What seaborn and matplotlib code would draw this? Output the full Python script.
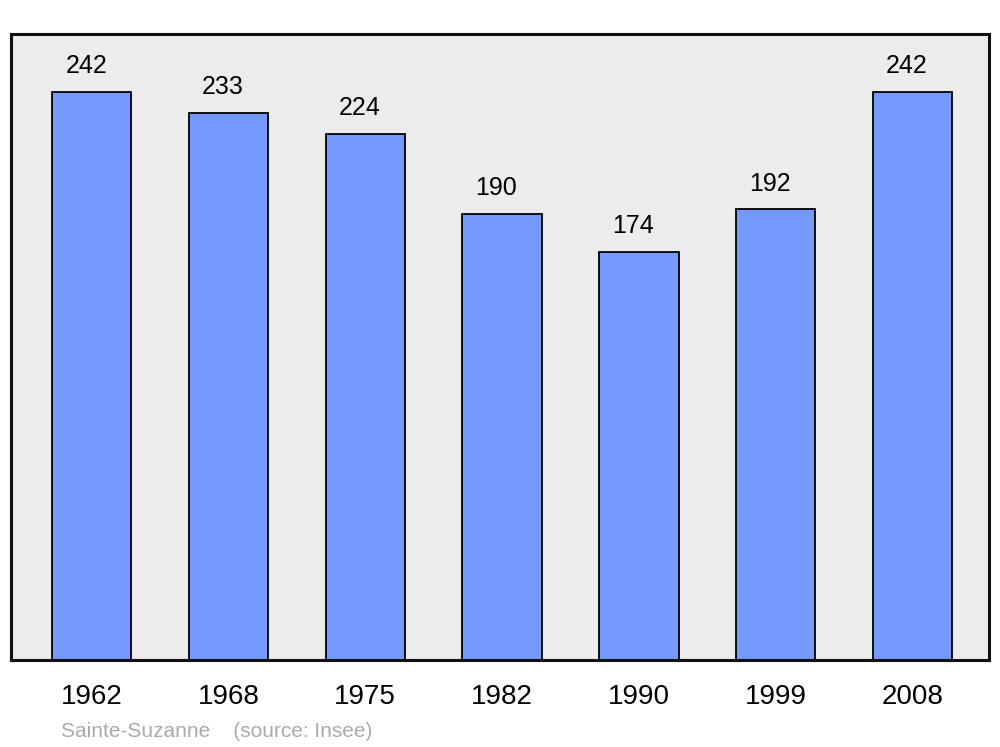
import matplotlib
matplotlib.use('Agg')
import matplotlib.pyplot as plt
import seaborn as sns
import pandas as pd

# population data
years = ['1962', '1968', '1975', '1982', '1990', '1999', '2008']
population = [242, 233, 224, 190, 174, 192, 242]

df = pd.DataFrame({'year': years, 'pop': population})

sns.set_style('white')
plt.rcParams['font.family'] = ['Liberation Sans', 'DejaVu Sans']

fig = plt.figure(figsize=(10, 7.47), dpi=100)
ax = fig.add_axes([0.011, 0.1165, 0.978, 0.838])
ax.set_facecolor('#ececec')

sns.barplot(data=df, x='year', y='pop', color='#7499ff', saturation=1,
            width=0.58, edgecolor='black', linewidth=1.3, ax=ax)

# value labels above bars
for i, v in enumerate(population):
    ax.annotate(str(v), (i, v), xytext=(-4, 13.5), textcoords='offset points',
                ha='center', va='baseline', fontsize=18, color='black')

ax.set_xlim(-0.59, 6.56)
ax.set_ylim(0, 266.7)
ax.set_yticks([])
ax.set_xlabel('')
ax.set_ylabel('')
ax.tick_params(axis='x', length=0, pad=17, labelsize=20, labelcolor='black')
for lbl in ax.get_xticklabels():
    lbl.set_x(lbl.get_position()[0])
for s in ax.spines.values():
    s.set_linewidth(2.2)
    s.set_color('#111111')

fig.text(0.061, 0.013, 'Sainte-Suzanne    (source: Insee)', color='#aaaaaa', fontsize=15)

fig.savefig('out.png', dpi=100)
